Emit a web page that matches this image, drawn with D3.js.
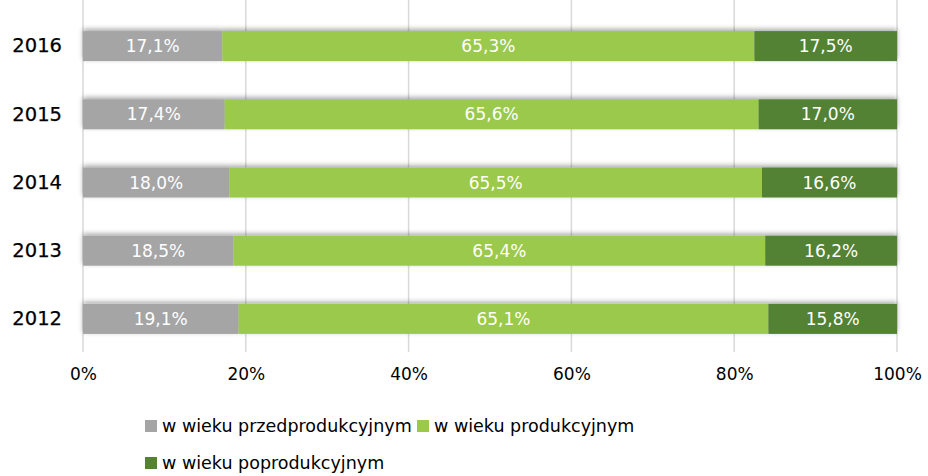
<!DOCTYPE html>
<html><head><meta charset="utf-8">
<script src="https://cdn.jsdelivr.net/npm/d3@7"></script>
<style>body{margin:0;background:#fff}svg{display:block;font-family:"DejaVu Sans",Verdana,sans-serif}</style>
</head><body><svg id="c" width="928" height="476"></svg>
<script>
const years = ["2016","2015","2014","2013","2012"];
const przed = [17.1, 17.4, 18.0, 18.5, 19.1];
const prod = [65.3, 65.6, 65.5, 65.4, 65.1];
const poprod = [17.5, 17.0, 16.6, 16.2, 15.8];
const seriesNames = ["w wieku przedprodukcyjnym","w wieku produkcyjnym","w wieku poprodukcyjnym"];
const colors = ["#a5a5a5","#9bc94b","#538234"];
const xTicks = [0,20,40,60,80,100];

const svg = d3.select("#c");
const margin = {left:83, right:31, top:12, bottom:123};
const W = 928, H = 476;
const x = d3.scaleLinear().domain([0,100]).range([margin.left, W-margin.right]);
const y = d3.scaleBand().domain(years).range([margin.top, H-margin.bottom]).paddingInner(0.56).paddingOuter(0.28);

const defs = svg.append("defs");
const f = defs.append("filter").attr("id","sh").attr("x","-5%").attr("y","-40%").attr("width","110%").attr("height","180%");
f.append("feDropShadow").attr("dx",0).attr("dy",-2).attr("stdDeviation",2.5).attr("flood-color","#000").attr("flood-opacity",0.35);

// gridlines
svg.append("g").selectAll("line").data(xTicks).join("line")
  .attr("x1",d=>x(d)).attr("x2",d=>x(d)).attr("y1",0).attr("y2",352)
  .attr("stroke","#d9d9d9").attr("stroke-width",1.5);

const rows = years.map((yr,i)=>{
  const vals=[przed[i],prod[i],poprod[i]];
  const tot=d3.sum(vals);
  let c=0;
  return vals.map((v,k)=>{const s=c; c+=v/tot*100; return {yr,k,v,x0:s,x1:c};});
});

const g = svg.append("g");
rows.forEach(r=>{
  const rg = g.append("g").attr("filter","url(#sh)");
  rg.selectAll("rect").data(r).join("rect")
    .attr("x",d=>x(d.x0)).attr("width",d=>x(d.x1)-x(d.x0))
    .attr("y",d=>y(d.yr)).attr("height",y.bandwidth())
    .attr("fill",d=>colors[d.k]);
});
rows.forEach(r=>{
  g.append("g").selectAll("text").data(r).join("text")
    .attr("x",d=>(x(d.x0)+x(d.x1))/2).attr("y",d=>y(d.yr)+y.bandwidth()/2)
    .attr("dy","0.36em").attr("text-anchor","middle").attr("fill","#fff")
    .attr("font-size",17)
    .text(d=>d.v.toFixed(1).replace(".",",")+"%");
});

// y labels
const ya = svg.append("g").attr("transform",`translate(${margin.left},0)`)
  .call(d3.axisLeft(y).tickSize(0).tickPadding(21));
ya.select(".domain").remove();
ya.selectAll("text").attr("font-size",19.5).attr("fill","#000").attr("stroke","#000").attr("stroke-width",0.25).attr("font-family","DejaVu Sans");

// x axis
const xa = svg.append("g").attr("transform",`translate(0,368)`)
  .call(d3.axisBottom(x).tickValues(xTicks).tickSize(0).tickPadding(0).tickFormat(d=>d+"%"));
xa.select(".domain").remove();
xa.selectAll("text").attr("font-size",17).attr("fill","#000").attr("font-family","DejaVu Sans");

// legend
const leg = [{k:0,x:145,y:426},{k:1,x:417,y:426},{k:2,x:145,y:463}];
const lg = svg.append("g").selectAll("g").data(leg).join("g").attr("transform",d=>`translate(${d.x},${d.y})`);
lg.append("rect").attr("x",0).attr("y",-6).attr("width",12).attr("height",12).attr("fill",d=>colors[d.k]);
lg.append("text").attr("x",17).attr("y",0).attr("dy","0.35em").attr("font-size",17.5).attr("fill","#000")
  .text(d=>seriesNames[d.k]);
</script></body></html>
